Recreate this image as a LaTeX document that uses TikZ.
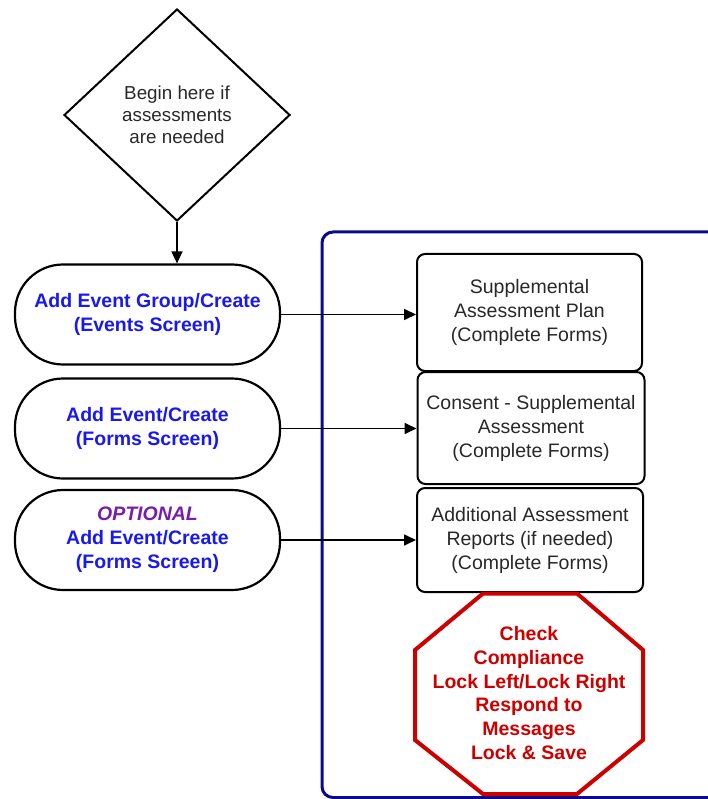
\documentclass[tikz,border=0pt]{standalone}
\usepackage{fontspec}
\setmainfont{Liberation Sans}
\usetikzlibrary{shapes.geometric,arrows.meta}
\definecolor{navyc}{RGB}{10,10,140}
\definecolor{bluet}{RGB}{25,25,235}
\definecolor{purp}{RGB}{120,30,170}
\definecolor{redc}{RGB}{205,0,0}
\definecolor{grayt}{RGB}{40,40,40}
\begin{document}
\begin{tikzpicture}[x=1pt,y=-1pt,
  stad/.style={draw, line width=2.2pt, rounded corners=48pt, minimum width=265pt, minimum height=100pt,
    align=center, text=bluet, font=\bfseries\fontsize{19.5}{24}\selectfont, inner sep=0pt},
  fbox/.style={draw, line width=2pt, rounded corners=8pt, align=center, text=grayt,
    font=\fontsize{19.5}{24}\selectfont, inner sep=0pt},
  conn/.style={line width=1.7pt, -{Triangle[length=12pt,width=11pt]}},
  cont/.style={draw=navyc, line width=3pt, rounded corners=11pt},
  octo/.style={draw=redc, line width=4pt, line join=miter}
]
\useasboundingbox (0,0) rectangle (708,799);
% container
\draw[cont] (740,797.5) -- (322,797.5) -- (322,232) -- (740,232);
% diamond
\node[diamond, draw, line width=2pt, minimum width=226pt, minimum height=212pt, inner sep=0pt,
  align=center, text=grayt, font=\fontsize{18.8}{22}\selectfont] (d) at (177,115)
  {Begin here if\\assessments\\are needed};
% stadiums
\node[stad] (s1) at (147.5,314.5) {Add Event Group/Create\\(Events Screen)};
\node[stad] (s2) at (147.5,428.5) {Add Event/Create\\(Forms Screen)};
\node[stad] (s3) at (147.5,540) {{\color{purp}\itshape OPTIONAL}\\Add Event/Create\\(Forms Screen)};
% boxes
\node[fbox, minimum width=225pt, minimum height=117pt] (b1) at (529.5,312.5)
  {Supplemental\\Assessment Plan\\(Complete Forms)};
\node[fbox, minimum width=227pt, minimum height=112pt] (b2) at (531,428)
  {Consent - Supplemental\\Assessment\\(Complete Forms)};
\node[fbox, minimum width=226pt, minimum height=104pt] (b3) at (530,540)
  {Additional Assessment\\Reports (if needed)\\(Complete Forms)};
% octagon
\coordinate (o1) at (483,593.5);
\coordinate (o2) at (577,593.5);
\coordinate (o3) at (643,650);
\coordinate (o4) at (643,740);
\coordinate (o5) at (577,794);
\coordinate (o6) at (483,794);
\coordinate (o7) at (415,740);
\coordinate (o8) at (415,650);
\draw[octo] (o1) -- (o2) -- (o3) -- (o4) -- (o5) -- (o6) -- (o7) -- (o8) -- cycle;
\node[align=center, text=redc, font=\bfseries\fontsize{19.5}{23.7}\selectfont, inner sep=0pt] (oc) at (529,693)
  {Check\\Compliance\\Lock Left/Lock Right\\Respond to\\Messages\\Lock \& Save};
% connectors
\draw[conn] (d.south) -- (d.south |- s1.north);
\draw[conn] (s1.east) -- (s1.east -| b1.west);
\draw[conn] (s2.east) -- (s2.east -| b2.west);
\draw[conn] (s3.east) -- (s3.east -| b3.west);
\end{tikzpicture}
\end{document}
